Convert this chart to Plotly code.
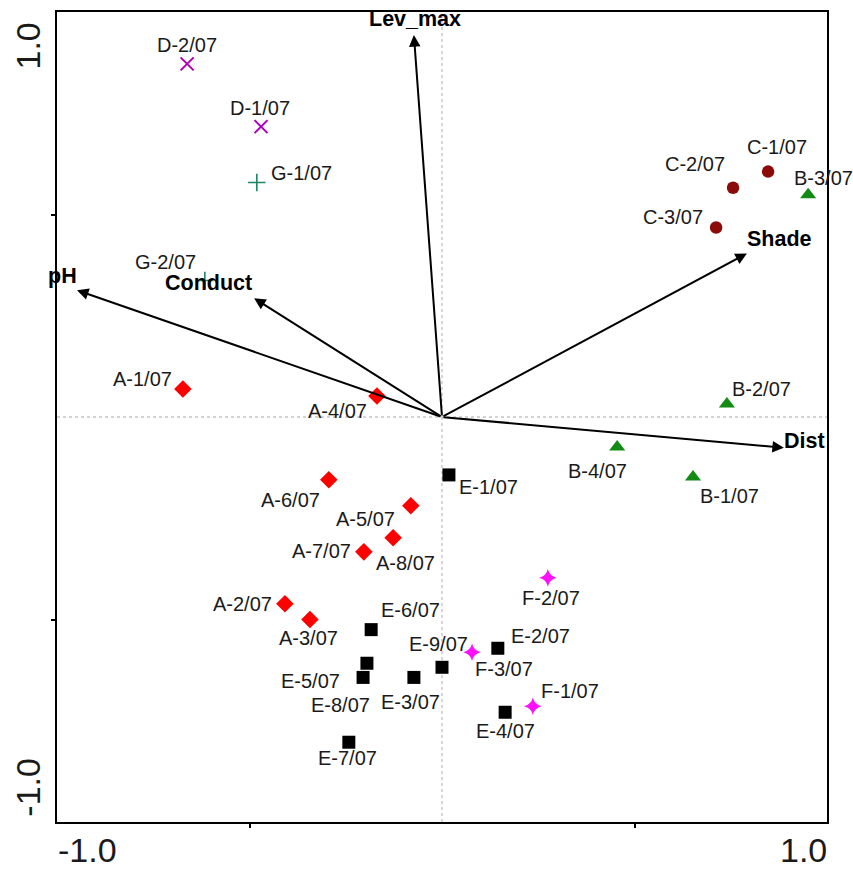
import plotly.graph_objects as go

# Sample scores on the first two ordination axes
sample_names = [
    "A-1/07", "A-2/07", "A-3/07", "A-4/07", "A-5/07", "A-6/07", "A-7/07", "A-8/07",
    "B-1/07", "B-2/07", "B-3/07", "B-4/07",
    "C-1/07", "C-2/07", "C-3/07",
    "D-1/07", "D-2/07",
    "E-1/07", "E-2/07", "E-3/07", "E-4/07", "E-5/07", "E-6/07", "E-7/07", "E-8/07", "E-9/07",
    "F-1/07", "F-2/07", "F-3/07",
    "G-1/07", "G-2/07",
]
axis1 = [
    -0.673, -0.408, -0.343, -0.169, -0.081, -0.294, -0.203, -0.127,
    0.652, 0.740, 0.951, 0.455,
    0.847, 0.756, 0.712,
    -0.470, -0.662,
    0.018, 0.145, -0.073, 0.164, -0.195, -0.184, -0.242, -0.205, 0.000,
    0.236, 0.275, 0.078,
    -0.481, -0.616,
]
axis2 = [
    0.069, -0.461, -0.500, 0.052, -0.219, -0.155, -0.333, -0.298,
    -0.148, 0.032, 0.549, -0.074,
    0.606, 0.566, 0.468,
    0.717, 0.872,
    -0.143, -0.571, -0.643, -0.729, -0.608, -0.525, -0.803, -0.643, -0.618,
    -0.714, -0.397, -0.581,
    0.579, 0.337,
]

# Environmental variable vectors (biplot arrows)
env_names = ["pH", "Conduct", "Lev_max", "Shade", "Dist"]
env_axis1 = [-0.948, -0.488, -0.073, 0.792, 0.888]
env_axis2 = [0.313, 0.293, 0.943, 0.404, -0.076]

# Axis end labels
axis_end_labels = ["-1.0", "1.0"]

# Marker style for each site group
group_style = {
    "A": dict(symbol="diamond", color="#ff0000", size=13.5, line=dict(width=0)),
    "B": dict(symbol="triangle-up", color="#138a13", size=14, line=dict(width=0)),
    "C": dict(symbol="circle", color="#8b0a0a", size=12.5, line=dict(width=0)),
    "D": dict(symbol="x-thin-open", color="#b000b8", size=13, line=dict(width=2, color="#b000b8")),
    "E": dict(symbol="square", color="#000000", size=13, line=dict(width=0)),
    "F": dict(symbol="star-diamond", color="#ff10ff", size=12.5, line=dict(width=0)),
    "G": dict(symbol="cross-thin-open", color="#1e8466", size=12.5, line=dict(width=1.6, color="#1e8466")),
}

# Pixel offsets of each sample label from its marker
label_shift = {
    "A-1/07": (-40, 10), "A-2/07": (-42, 0), "A-3/07": (-1, -18), "A-4/07": (-39, -15),
    "A-5/07": (-45, -13), "A-6/07": (-38, -20), "A-7/07": (-42, 1), "A-8/07": (12, -25),
    "B-1/07": (36, -19), "B-2/07": (35, 15), "B-3/07": (15, 17), "B-4/07": (-20, -24),
    "C-1/07": (9, 25), "C-2/07": (-38, 24), "C-3/07": (-43, 10),
    "D-1/07": (-1, 19), "D-2/07": (0, 19),
    "E-1/07": (40, -12), "E-2/07": (43, 12), "E-3/07": (-3, -25), "E-4/07": (0, -19),
    "E-5/07": (-56, -18), "E-6/07": (39, 20), "E-7/07": (-1, -16), "E-8/07": (-23, -28),
    "E-9/07": (-4, 23),
    "F-1/07": (37, 15), "F-2/07": (3, -20), "F-3/07": (32, -17),
    "G-1/07": (45, 10), "G-2/07": (-39, 19),
}
env_label_shift = {
    "pH": (-15, 14), "Conduct": (-46, 15), "Lev_max": (1, 16),
    "Shade": (33, 14), "Dist": (21, 7),
}

FONT = "Liberation Sans, Arial, sans-serif"
TEXT_COLOR = "#1a1a1a"

fig = go.Figure()

# One trace per site group
for g, style in group_style.items():
    idx = [i for i, n in enumerate(sample_names) if n.startswith(g)]
    fig.add_trace(go.Scatter(
        x=[axis1[i] for i in idx],
        y=[axis2[i] for i in idx],
        mode="markers",
        name=g,
        marker=style,
        cliponaxis=False,
        hovertext=[sample_names[i] for i in idx],
        hoverinfo="text",
    ))

annotations = []

# Sample labels
for n, xv, yv in zip(sample_names, axis1, axis2):
    dx, dy = label_shift[n]
    annotations.append(dict(
        x=xv, y=yv, xref="x", yref="y", text=n, showarrow=False,
        xshift=dx, yshift=dy, xanchor="center", yanchor="middle",
        font=dict(family=FONT, size=20, color=TEXT_COLOR),
    ))

# Environmental arrows from the origin and their labels
for n, xv, yv in zip(env_names, env_axis1, env_axis2):
    annotations.append(dict(
        x=xv, y=yv, xref="x", yref="y", ax=0, ay=0, axref="x", ayref="y",
        text="", showarrow=True, arrowhead=2, arrowsize=1.15, arrowwidth=2,
        arrowcolor="#000000", standoff=0, startstandoff=0,
    ))
    dx, dy = env_label_shift[n]
    annotations.append(dict(
        x=xv, y=yv, xref="x", yref="y", text="<b>%s</b>" % n, showarrow=False,
        xshift=dx, yshift=dy, xanchor="center", yanchor="middle",
        font=dict(family=FONT, size=21.5, color="#000000"),
    ))

# Axis end labels: horizontal along the bottom, rotated along the left side
annotations += [
    dict(x=0.039, y=-0.0345, xref="paper", yref="paper", text=axis_end_labels[0],
         showarrow=False, xanchor="center", yanchor="middle",
         font=dict(family=FONT, size=34, color=TEXT_COLOR)),
    dict(x=0.9695, y=-0.0345, xref="paper", yref="paper", text=axis_end_labels[1],
         showarrow=False, xanchor="center", yanchor="middle",
         font=dict(family=FONT, size=34, color=TEXT_COLOR)),
    dict(x=-0.037, y=0.043, xref="paper", yref="paper", text=axis_end_labels[0],
         showarrow=False, xanchor="center", yanchor="middle", textangle=-90,
         font=dict(family=FONT, size=34, color=TEXT_COLOR)),
    dict(x=-0.037, y=0.958, xref="paper", yref="paper", text=axis_end_labels[1],
         showarrow=False, xanchor="center", yanchor="middle", textangle=-90,
         font=dict(family=FONT, size=34, color=TEXT_COLOR)),
]

# Dotted reference lines through the origin
shapes = [
    dict(type="line", xref="x", yref="paper", x0=0, x1=0, y0=0, y1=1,
         line=dict(color="#b4a4bc", width=1, dash="dot"), layer="below"),
    dict(type="line", xref="paper", yref="y", x0=0, x1=1, y0=0, y1=0,
         line=dict(color="#a8a8a8", width=1, dash="dot"), layer="below"),
]

axis_common = dict(
    range=[-1, 1], showgrid=False, zeroline=False,
    showline=True, mirror=True, linecolor="#000000", linewidth=2,
    tickvals=[-0.5, 0.5], ticks="outside", ticklen=4, tickwidth=1.5,
    tickcolor="#000000", showticklabels=False, fixedrange=True,
)

fig.update_layout(
    width=853, height=869,
    margin=dict(l=57, r=26, t=10, b=47),
    paper_bgcolor="#ffffff", plot_bgcolor="#ffffff",
    showlegend=False,
    xaxis=axis_common,
    yaxis=axis_common,
    annotations=annotations,
    shapes=shapes,
)

fig.write_html("out.html")
